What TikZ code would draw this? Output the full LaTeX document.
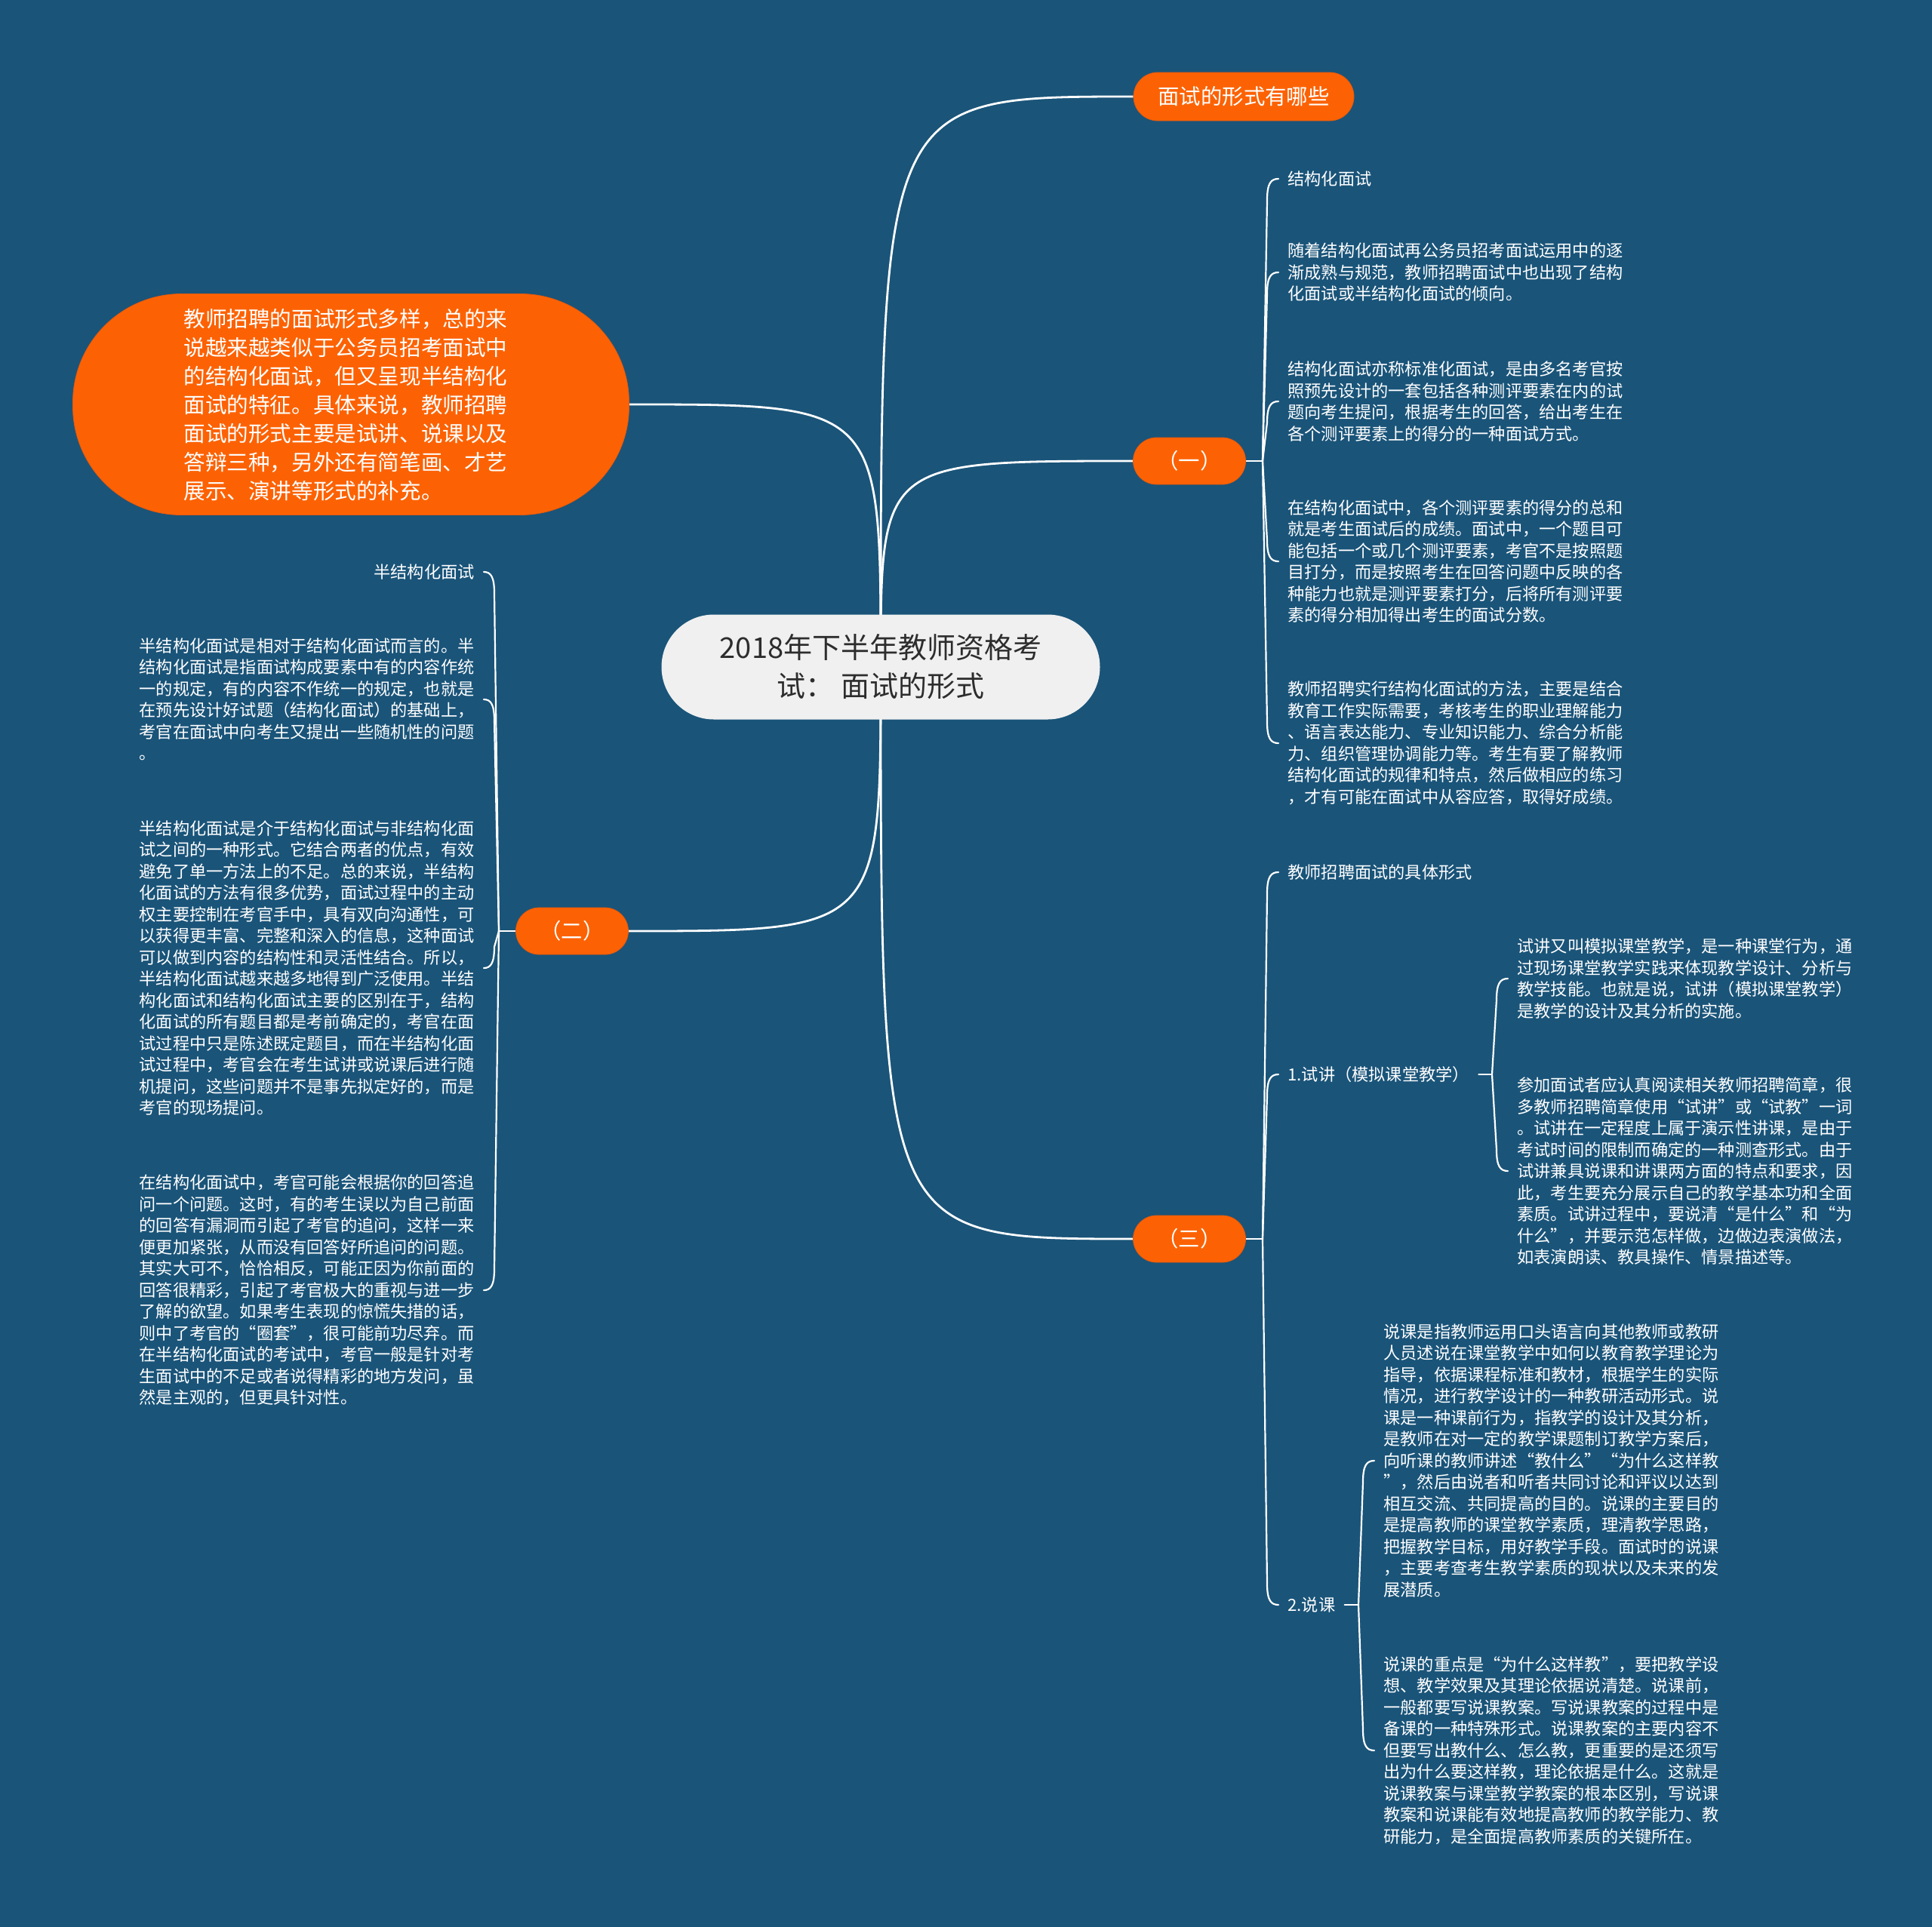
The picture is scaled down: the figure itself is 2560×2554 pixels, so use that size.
\documentclass[tikz,border=0pt]{standalone}
\usepackage{fontspec}
\setmainfont{Noto Sans CJK SC}
\usetikzlibrary{calc}
\definecolor{bgc}{RGB}{26,84,121}
\definecolor{org}{RGB}{252,98,4}
\definecolor{orgedge}{RGB}{230,88,10}
\definecolor{cen}{RGB}{240,240,240}
\definecolor{ctext}{RGB}{45,45,45}
\pgfdeclarelayer{back}\pgfdeclarelayer{mid}\pgfsetlayers{back,mid,main}
\newcommand{\mmUpR}[2]{\draw[brace] (#1) -- ($(#2.west)+(-27,28)$) .. controls ($(#2.west)+(-27,6)$) and ($(#2.west)+(-22,0)$) .. ($(#2.west)+(-12,0)$);}
\newcommand{\mmDnR}[2]{\draw[brace] (#1) -- ($(#2.west)+(-27,-28)$) .. controls ($(#2.west)+(-27,-6)$) and ($(#2.west)+(-22,0)$) .. ($(#2.west)+(-12,0)$);}
\newcommand{\mmUpL}[2]{\draw[brace] (#1) -- ($(#2.east)+(26,28)$) .. controls ($(#2.east)+(26,6)$) and ($(#2.east)+(21,0)$) .. ($(#2.east)+(12,0)$);}
\newcommand{\mmDnL}[2]{\draw[brace] (#1) -- ($(#2.east)+(26,-28)$) .. controls ($(#2.east)+(26,-6)$) and ($(#2.east)+(21,0)$) .. ($(#2.east)+(12,0)$);}
\begin{document}
\begin{tikzpicture}[x=0.5pt,y=-0.5pt,
  link/.style={draw=white, line width=1.4pt},
  brace/.style={draw=white, line width=1.1pt, line cap=round},
  pill/.style={fill=org, draw=orgedge, line width=0.4pt, text=white, inner sep=0, align=center},
  para/.style={text=white, font=\fontsize{11.1}{14.25}\selectfont, align=left, inner sep=0},
  lab/.style={text=white, font=\fontsize{11.1}{14.25}\selectfont, inner sep=0}]
\useasboundingbox (0,0) rectangle (2560,2554);
% central
\node[fill=cen, text=ctext, minimum width=290.5pt, minimum height=69.5pt, rounded corners=34.7pt,
  font=\fontsize{19}{25.5}\selectfont, align=center, inner sep=0] (c) at (1167,884)
  {2018年下半年教师资格考\\试： 面试的形式};
% first level
\node[pill, minimum width=146pt, minimum height=32pt, rounded corners=16pt, font=\fontsize{14.2}{17}\selectfont] (t) at (1648,128) {面试的形式有哪些};
\node[pill, minimum width=74.5pt, minimum height=31pt, rounded corners=15.5pt, font=\fontsize{14.2}{17}\selectfont] (b1) at (1576,611) {（一）};
\node[pill, minimum width=74.5pt, minimum height=31pt, rounded corners=15.5pt, font=\fontsize{14.2}{17}\selectfont] (b2) at (758,1234) {（二）};
\node[pill, minimum width=74.5pt, minimum height=31pt, rounded corners=15.5pt, font=\fontsize{14.2}{17}\selectfont] (b3) at (1576,1642) {（三）};
\node[fill=org, draw=orgedge, line width=0.4pt, minimum width=368.5pt, minimum height=146.5pt, rounded corners=72pt, inner sep=0] (L) at (465,536) {};
\node[text=white, font=\fontsize{14.3}{19}\selectfont, align=left, inner sep=0, anchor=west] (Lt) at (243,537)
  {教师招聘的面试形式多样，总的来\\
说越来越类似于公务员招考面试中\\
的结构化面试，但又呈现半结构化\\
面试的特征。具体来说，教师招聘\\
面试的形式主要是试讲、说课以及\\
答辩三种，另外还有简笔画、才艺\\
展示、演讲等形式的补充。};
% (一) children
\node[lab, anchor=west] (k1) at (1706,237) {结构化面试};
\node[para, anchor=west] (k2) at (1706,361) {随着结构化面试再公务员招考面试运用中的逐\\
渐成熟与规范，教师招聘面试中也出现了结构\\
化面试或半结构化面试的倾向。};
\node[para, anchor=west] (k3) at (1706,532) {结构化面试亦称标准化面试，是由多名考官按\\
照预先设计的一套包括各种测评要素在内的试\\
题向考生提问，根据考生的回答，给出考生在\\
各个测评要素上的得分的一种面试方式。};
\node[para, anchor=west] (k4) at (1706,744) {在结构化面试中，各个测评要素的得分的总和\\
就是考生面试后的成绩。面试中，一个题目可\\
能包括一个或几个测评要素，考官不是按照题\\
目打分，而是按照考生在回答问题中反映的各\\
种能力也就是测评要素打分，后将所有测评要\\
素的得分相加得出考生的面试分数。};
\node[para, anchor=west] (k5) at (1706,985) {教师招聘实行结构化面试的方法，主要是结合\\
教育工作实际需要，考核考生的职业理解能力\\
、语言表达能力、专业知识能力、综合分析能\\
力、组织管理协调能力等。考生有要了解教师\\
结构化面试的规律和特点，然后做相应的练习\\
，才有可能在面试中从容应答，取得好成绩。};
% (二) children
\node[lab, anchor=east] (m1) at (629,758) {半结构化面试};
\node[para, anchor=east] (m2) at (629,927) {半结构化面试是相对于结构化面试而言的。半\\
结构化面试是指面试构成要素中有的内容作统\\
一的规定，有的内容不作统一的规定，也就是\\
在预先设计好试题（结构化面试）的基础上，\\
考官在面试中向考生又提出一些随机性的问题\\
。};
\node[para, anchor=east] (m3) at (629,1283) {半结构化面试是介于结构化面试与非结构化面\\
试之间的一种形式。它结合两者的优点，有效\\
避免了单一方法上的不足。总的来说，半结构\\
化面试的方法有很多优势，面试过程中的主动\\
权主要控制在考官手中，具有双向沟通性，可\\
以获得更丰富、完整和深入的信息，这种面试\\
可以做到内容的结构性和灵活性结合。所以，\\
半结构化面试越来越多地得到广泛使用。半结\\
构化面试和结构化面试主要的区别在于，结构\\
化面试的所有题目都是考前确定的，考官在面\\
试过程中只是陈述既定题目，而在半结构化面\\
试过程中，考官会在考生试讲或说课后进行随\\
机提问，这些问题并不是事先拟定好的，而是\\
考官的现场提问。};
\node[para, anchor=east] (m4) at (629,1710) {在结构化面试中，考官可能会根据你的回答追\\
问一个问题。这时，有的考生误以为自己前面\\
的回答有漏洞而引起了考官的追问，这样一来\\
便更加紧张，从而没有回答好所追问的问题。\\
其实大可不，恰恰相反，可能正因为你前面的\\
回答很精彩，引起了考官极大的重视与进一步\\
了解的欲望。如果考生表现的惊慌失措的话，\\
则中了考官的“圈套”，很可能前功尽弃。而\\
在半结构化面试的考试中，考官一般是针对考\\
生面试中的不足或者说得精彩的地方发问，虽\\
然是主观的，但更具针对性。};
% (三) children
\node[lab, anchor=west] (n1) at (1706,1156) {教师招聘面试的具体形式};
\node[lab, anchor=west] (n2) at (1706,1424) {1.试讲（模拟课堂教学）};
\node[lab, anchor=west] (n3) at (1706,2127) {2.说课};
\node[para, anchor=west] (s1) at (2010,1297) {试讲又叫模拟课堂教学，是一种课堂行为，通\\
过现场课堂教学实践来体现教学设计、分析与\\
教学技能。也就是说，试讲（模拟课堂教学）\\
是教学的设计及其分析的实施。};
\node[para, anchor=west] (s2) at (2010,1552) {参加面试者应认真阅读相关教师招聘简章，很\\
多教师招聘简章使用“试讲”或“试教”一词\\
。试讲在一定程度上属于演示性讲课，是由于\\
考试时间的限制而确定的一种测查形式。由于\\
试讲兼具说课和讲课两方面的特点和要求，因\\
此，考生要充分展示自己的教学基本功和全面\\
素质。试讲过程中，要说清“是什么”和“为\\
什么”，并要示范怎样做，边做边表演做法，\\
如表演朗读、教具操作、情景描述等。};
\node[para, anchor=west] (u1) at (1833,1936) {说课是指教师运用口头语言向其他教师或教研\\
人员述说在课堂教学中如何以教育教学理论为\\
指导，依据课程标准和教材，根据学生的实际\\
情况，进行教学设计的一种教研活动形式。说\\
课是一种课前行为，指教学的设计及其分析，\\
是教师在对一定的教学课题制订教学方案后，\\
向听课的教师讲述“教什么”“为什么这样教\\
”，然后由说者和听者共同讨论和评议以达到\\
相互交流、共同提高的目的。说课的主要目的\\
是提高教师的课堂教学素质，理清教学思路，\\
把握教学目标，用好教学手段。面试时的说课\\
，主要考查考生教学素质的现状以及未来的发\\
展潜质。};
\node[para, anchor=west] (u2) at (1833,2320) {说课的重点是“为什么这样教”，要把教学设\\
想、教学效果及其理论依据说清楚。说课前，\\
一般都要写说课教案。写说课教案的过程中是\\
备课的一种特殊形式。说课教案的主要内容不\\
但要写出教什么、怎么教，更重要的是还须写\\
出为什么要这样教，理论依据是什么。这就是\\
说课教案与课堂教学教案的根本区别，写说课\\
教案和说课能有效地提高教师的教学能力、教\\
研能力，是全面提高教师素质的关键所在。};
% junctions
\coordinate (j1) at (1673,611);
\coordinate (j2) at (661,1234);
\coordinate (j3) at (1673,1642);
\coordinate (j4) at (1977,1424);
\coordinate (j5) at (1800,2127);
\begin{pgfonlayer}{back}
\fill[bgc] (0,0) rectangle (2560,2554);
\end{pgfonlayer}
\begin{pgfonlayer}{mid}
\draw[link] (c.center) .. controls (c.center |- t.west) .. (t.west);
\draw[link] (c.center) .. controls (c.center |- b1.west) .. (b1.west);
\draw[link] (c.center) .. controls (c.center |- L.east) .. (L.east);
\draw[link] (c.center) .. controls (c.center |- b2.east) .. (b2.east);
\draw[link] (c.center) .. controls (c.center |- b3.west) .. (b3.west);
% (一)
\draw[brace] (b1.east) -- (j1);
\mmUpR{j1}{k1}\mmUpR{j1}{k2}\mmUpR{j1}{k3}\mmDnR{j1}{k4}\mmDnR{j1}{k5}
% (二)
\draw[brace] (b2.west) -- (j2);
\mmUpL{j2}{m1}\mmUpL{j2}{m2}\mmDnL{j2}{m3}\mmDnL{j2}{m4}
% (三)
\draw[brace] (b3.east) -- (j3);
\mmUpR{j3}{n1}\mmUpR{j3}{n2}\mmDnR{j3}{n3}
\draw[brace] ($(n2.east)+(12,0)$) -- (j4);
\mmUpR{j4}{s1}\mmDnR{j4}{s2}
\draw[brace] ($(n3.east)+(12,0)$) -- (j5);
\mmUpR{j5}{u1}\mmDnR{j5}{u2}
\end{pgfonlayer}
\end{tikzpicture}
\end{document}
